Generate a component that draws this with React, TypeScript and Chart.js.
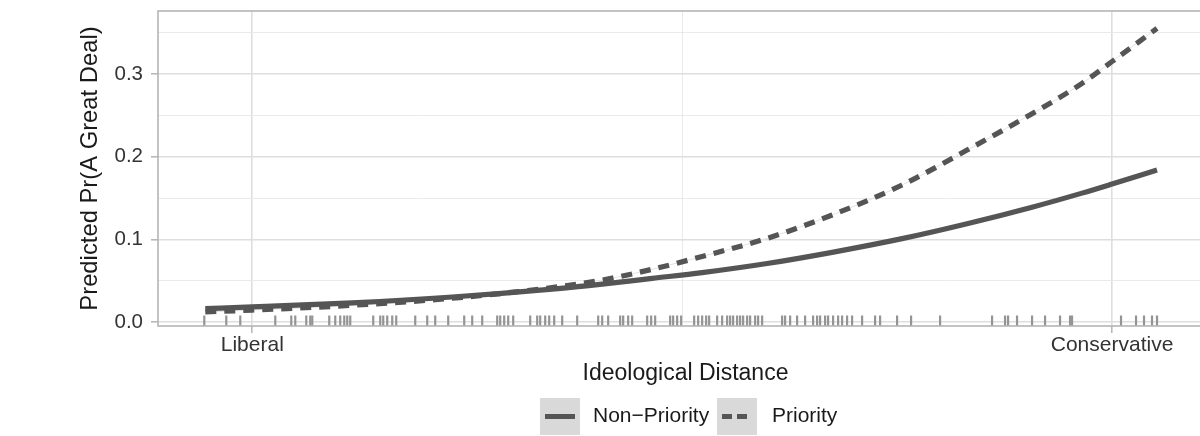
import React, { useEffect, useRef } from "react";
import { Chart, registerables } from "chart.js";

Chart.register(...registerables);

// ---- data ----
const X_TICKS = [0, 4.3, 8.6];
const X_LABELS = ["Liberal", "", "Conservative"];
const X_MAJOR = [true, false, true];

const Y_TICKS = [0, 0.05, 0.1, 0.15, 0.2, 0.25, 0.3, 0.35];
const Y_LABELS = ["0.0", "", "0.1", "", "0.2", "", "0.3", ""];
const Y_MAJOR = [true, false, true, false, true, false, true, false];

const CURVE_X = [-0.47, 0, 1, 2, 3, 3.5, 4, 4.5, 5.15, 5.8, 6.5, 7.15, 7.8, 8.3, 8.6, 9.05];
const NON_PRIORITY = [0.0165, 0.0185, 0.0235, 0.0305, 0.04, 0.046, 0.053, 0.06, 0.071, 0.0845, 0.101, 0.119, 0.139, 0.156, 0.167, 0.184];
const PRIORITY = [0.0125, 0.0147, 0.0205, 0.029, 0.042, 0.051, 0.064, 0.0795, 0.1014, 0.1296, 0.1658, 0.208, 0.252, 0.2886, 0.315, 0.355];

const RUG_X = [
  -0.48, -0.26, -0.12, 0.23, 0.39, 0.43, 0.54, 0.58, 0.6, 0.77, 0.83, 0.88, 0.92, 0.95, 0.98,
  1.21, 1.28, 1.31, 1.35, 1.4, 1.44, 1.63, 1.75, 1.83, 1.96, 2.12, 2.2, 2.3, 2.45, 2.48, 2.52,
  2.56, 2.61, 2.78, 2.85, 2.88, 2.93, 2.97, 3.02, 3.1, 3.25, 3.46, 3.5, 3.56, 3.68, 3.71, 3.76,
  3.8, 3.95, 3.99, 4.03, 4.18, 4.21, 4.25, 4.29, 4.42, 4.46, 4.5, 4.54, 4.57, 4.65, 4.7, 4.75,
  4.78, 4.81, 4.85, 4.88, 4.91, 4.95, 4.98, 5.03, 5.06, 5.1, 5.3, 5.33, 5.38, 5.45, 5.53, 5.61,
  5.65, 5.68, 5.73, 5.76, 5.81, 5.86, 5.9, 5.95, 6.0, 6.1, 6.23, 6.28, 6.45, 6.59, 6.88, 7.4,
  7.53, 7.56, 7.65, 7.8, 7.93, 8.08, 8.18, 8.2, 8.69, 8.84, 8.92, 9.0, 9.05,
];

const SERIES_NAMES = ["Non\u2212Priority", "Priority"];

const FONT = "'Liberation Sans', Arial, Helvetica, sans-serif";
const LINE_COLOR = "#555555";
const RUG_COLOR = "#949494";
const BORDER_COLOR = "#b5b5b5";
const GRID_MAJOR = "#dedede";
const GRID_MINOR = "#e8e8e8";

const panelPlugin = {
  id: "panelExtras",
  beforeDatasetsDraw(chart: any) {
    const { ctx, chartArea, scales } = chart;
    ctx.save();
    ctx.strokeStyle = RUG_COLOR;
    ctx.lineWidth = 2.2;
    for (const v of RUG_X) {
      const px = scales.x.getPixelForValue(v);
      ctx.beginPath();
      ctx.moveTo(px, chartArea.bottom);
      ctx.lineTo(px, chartArea.bottom - 10.5);
      ctx.stroke();
    }
    ctx.restore();
  },
  afterDraw(chart: any) {
    const { ctx, chartArea } = chart;
    ctx.save();
    // panel border
    ctx.strokeStyle = BORDER_COLOR;
    ctx.lineWidth = 1.6;
    ctx.strokeRect(chartArea.left, chartArea.top, chartArea.right - chartArea.left, chartArea.bottom - chartArea.top);

    // legend
    const keyTop = 398;
    const keyH = 37;
    const keyW = 40;
    const midY = keyTop + keyH / 2;
    const keys = [
      { x: 540, dash: [] as number[], textX: 593 },
      { x: 717, dash: [10, 5], textX: 772 },
    ];
    keys.forEach((k, i) => {
      ctx.fillStyle = "#d9d9d9";
      ctx.fillRect(k.x, keyTop, keyW, keyH);
      ctx.strokeStyle = LINE_COLOR;
      ctx.lineWidth = 5;
      ctx.lineCap = "butt";
      ctx.setLineDash(k.dash);
      ctx.beginPath();
      ctx.moveTo(k.x + 5, midY);
      ctx.lineTo(k.x + 35, midY);
      ctx.stroke();
      ctx.setLineDash([]);
      ctx.fillStyle = "#1a1a1a";
      ctx.font = `21px ${FONT}`;
      ctx.textAlign = "left";
      ctx.textBaseline = "middle";
      ctx.fillText(SERIES_NAMES[i], k.textX, midY);
    });
    ctx.restore();
  },
};

export default function App() {
  const ref = useRef<HTMLCanvasElement | null>(null);

  useEffect(() => {
    if (!ref.current) return;
    const toPts = (ys: number[]) => CURVE_X.map((x, i) => ({ x, y: ys[i] }));
    const chart = new Chart(ref.current, {
      type: "line",
      data: {
        datasets: [
          {
            label: SERIES_NAMES[0],
            data: toPts(NON_PRIORITY),
            borderColor: LINE_COLOR,
            borderWidth: 5.2,
            pointRadius: 0,
            cubicInterpolationMode: "monotone",
            borderCapStyle: "butt",
          },
          {
            label: SERIES_NAMES[1],
            data: toPts(PRIORITY),
            borderColor: LINE_COLOR,
            borderWidth: 5.2,
            borderDash: [11, 8],
            pointRadius: 0,
            cubicInterpolationMode: "monotone",
            borderCapStyle: "butt",
          },
          {
            label: "priority-trace",
            data: toPts(PRIORITY),
            borderColor: "#e2e2e2",
            borderWidth: 1,
            pointRadius: 0,
            cubicInterpolationMode: "monotone",
          },
        ],
      } as any,
      options: {
        animation: false,
        responsive: false,
        maintainAspectRatio: false,
        layout: { padding: { left: 0, top: 11, right: 7, bottom: 46 } },
        plugins: { legend: { display: false }, tooltip: { enabled: false } },
        scales: {
          x: {
            type: "linear",
            min: -0.943,
            max: 9.61,
            afterBuildTicks: (s: any) => {
              s.ticks = X_TICKS.map((v) => ({ value: v }));
            },
            afterFit: (s: any) => {
              s.height = 64;
              s.paddingLeft = 0;
              s.paddingRight = 0;
            },
            border: { display: false },
            grid: {
              color: (c: any) => (X_MAJOR[c.index] ? GRID_MAJOR : GRID_MINOR),
              lineWidth: (c: any) => (X_MAJOR[c.index] ? 1.6 : 0.9),
              tickColor: (c: any) => (X_MAJOR[c.index] ? BORDER_COLOR : "rgba(0,0,0,0)"),
              tickWidth: 1.5,
              tickLength: 7,
            },
            ticks: {
              autoSkip: false,
              maxRotation: 0,
              minRotation: 0,
              padding: 0,
              color: "#333333",
              font: { family: FONT, size: 21 },
              callback: (_v: any, i: number) => X_LABELS[i],
            },
            title: {
              display: true,
              text: "Ideological Distance",
              color: "#1a1a1a",
              font: { family: FONT, size: 23 },
              padding: { top: 0, bottom: 3 },
            },
          },
          y: {
            type: "linear",
            min: -0.0045,
            max: 0.376,
            afterBuildTicks: (s: any) => {
              s.ticks = Y_TICKS.map((v) => ({ value: v }));
            },
            afterFit: (s: any) => {
              s.width = 158;
              s.paddingTop = 0;
              s.paddingBottom = 0;
            },
            border: { display: false },
            grid: {
              color: (c: any) => (Y_MAJOR[c.index] ? GRID_MAJOR : GRID_MINOR),
              lineWidth: (c: any) => (Y_MAJOR[c.index] ? 1.6 : 0.9),
              tickColor: (c: any) => (Y_MAJOR[c.index] ? BORDER_COLOR : "rgba(0,0,0,0)"),
              tickWidth: 1.5,
              tickLength: 7,
            },
            ticks: {
              autoSkip: false,
              padding: 8,
              color: "#333333",
              font: { family: FONT, size: 20.5 },
              callback: (_v: any, i: number) => Y_LABELS[i],
            },
            title: {
              display: true,
              text: "Predicted Pr(A Great Deal)",
              color: "#1a1a1a",
              font: { family: FONT, size: 23.8 },
              padding: { top: 76, bottom: 0 },
            },
          },
        },
      } as any,
      plugins: [panelPlugin],
    });
    return () => chart.destroy();
  }, []);

  return (
    <div
      style={{
        position: "absolute",
        left: 0,
        top: 0,
        width: 1200,
        height: 436,
        overflow: "hidden",
        background: "#ffffff",
      }}
    >
      <canvas ref={ref} width={1220} height={436} style={{ width: 1220, height: 436, display: "block" }} />
    </div>
  );
}
